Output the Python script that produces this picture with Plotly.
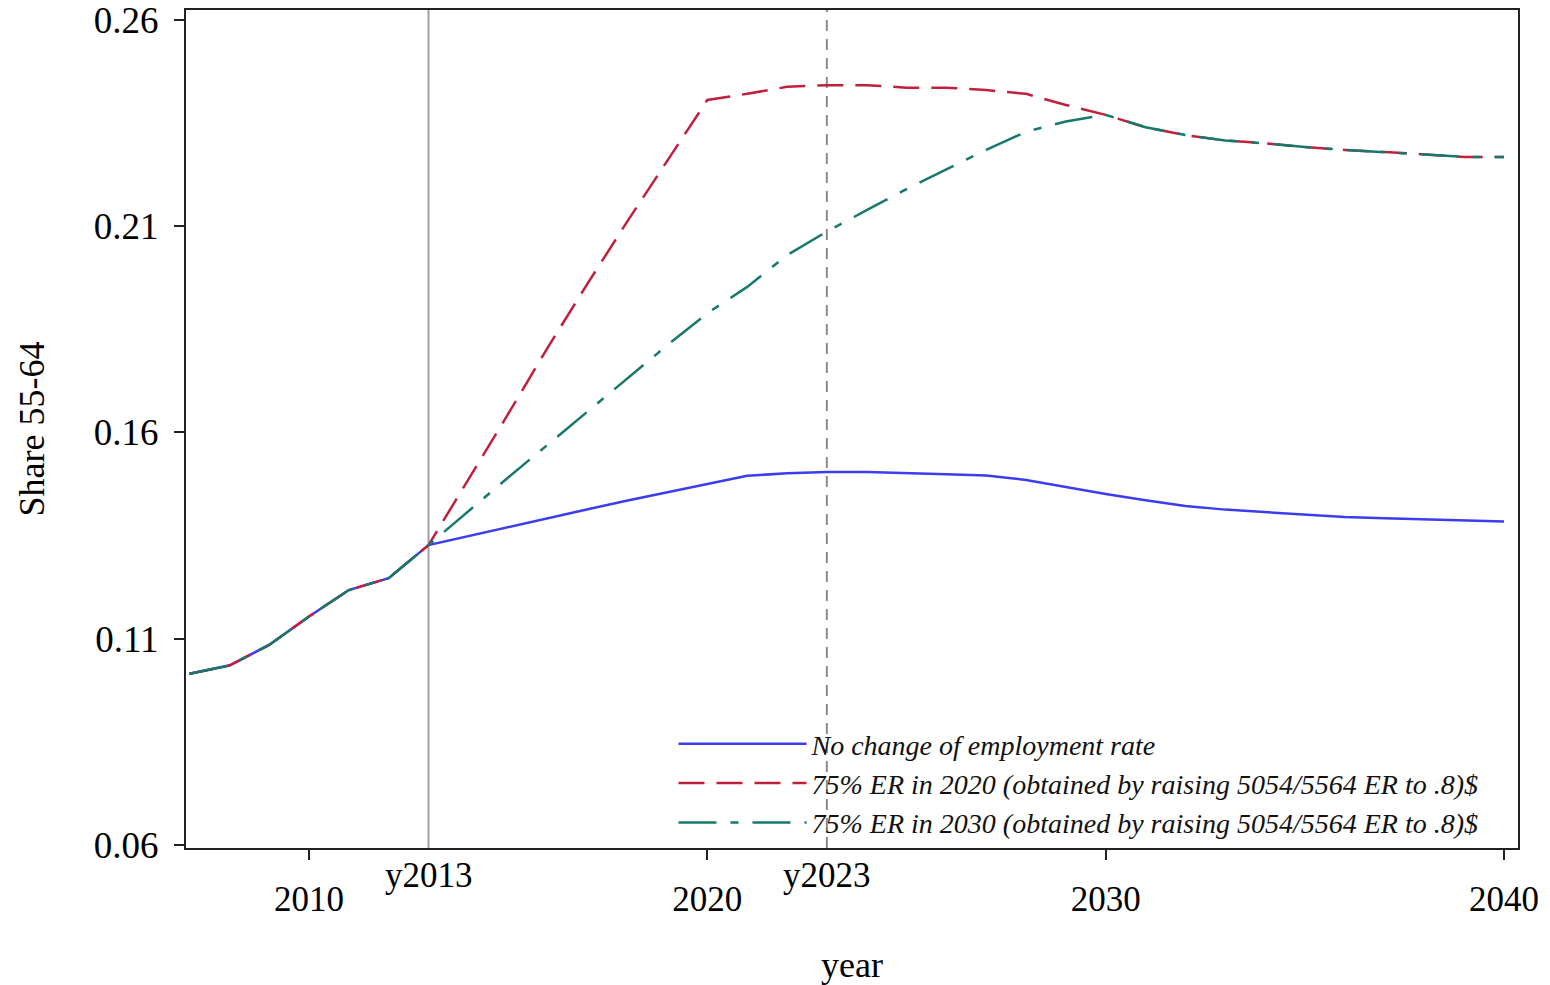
import plotly.graph_objects as go

# Projection years
years = list(range(2007, 2041))

# Share of 55-64 year olds, by employment-rate scenario
share_no_change = [
    0.1015, 0.1035, 0.1085, 0.1154, 0.1218, 0.1247, 0.1327,
    0.1349, 0.1371, 0.1393, 0.1414, 0.1435, 0.1455, 0.1475,
    0.1495, 0.1501, 0.1504, 0.1504, 0.1502, 0.1499, 0.1496,
    0.1485, 0.1468, 0.1451, 0.1436, 0.1422, 0.1413, 0.1407,
    0.1401, 0.1395, 0.1392, 0.1389, 0.1387, 0.1384,
]
share_er75_2020 = [
    0.1015, 0.1035, 0.1085, 0.1154, 0.1218, 0.1247, 0.1327,
    0.1485, 0.1645, 0.1807, 0.1962, 0.2113, 0.2261, 0.2406,
    0.2421, 0.2438, 0.2442, 0.2442, 0.2436, 0.2436, 0.2430,
    0.2421, 0.2394, 0.2370, 0.2340, 0.2321, 0.2308, 0.2301,
    0.2292, 0.2285, 0.2280, 0.2274, 0.2268, 0.2268,
]
share_er75_2030 = [
    0.1015, 0.1035, 0.1085, 0.1154, 0.1218, 0.1247, 0.1327,
    0.1410, 0.1491, 0.1571, 0.1652, 0.1732, 0.1812, 0.1889,
    0.1953, 0.2030, 0.2087, 0.2139, 0.2190, 0.2238, 0.2285,
    0.2329, 0.2354, 0.2370, 0.2340, 0.2321, 0.2308, 0.2301,
    0.2292, 0.2285, 0.2280, 0.2274, 0.2268, 0.2268,
]

series_names = [
    "No change of employment rate",
    "75% ER in 2020 (obtained by raising 5054/5564 ER to .8)$",
    "75% ER in 2030 (obtained by raising 5054/5564 ER to .8)$",
]

# Axis ticks
x_ticks = [2010, 2020, 2030, 2040]
y_ticks = [0.06, 0.11, 0.16, 0.21, 0.26]
y_tick_text = ["0.06", "0.11", "0.16", "0.21", "0.26"]

# Reference years marked by vertical lines
ref_years = [2013, 2023]
ref_labels = ["y2013", "y2023"]

SERIF = "Liberation Serif, Times New Roman, serif"

fig = go.Figure()
fig.add_trace(go.Scatter(
    x=years, y=share_no_change, mode="lines", name=series_names[0],
    line=dict(color="#3c3cf0", width=2.5),
))
fig.add_trace(go.Scatter(
    x=years, y=share_er75_2020, mode="lines", name=series_names[1],
    line=dict(color="#c0203c", width=2.5, dash="26px,12px"),
))
fig.add_trace(go.Scatter(
    x=years, y=share_er75_2030, mode="lines", name=series_names[2],
    line=dict(color="#17796b", width=2.5, dash="38px,14px,8px,14px"),
))

# Vertical reference lines: solid at the base year, dashed ten years later
fig.add_shape(type="line", xref="x", yref="paper", x0=ref_years[0], x1=ref_years[0],
              y0=0, y1=1, line=dict(color="#a0a0a0", width=2), layer="below")
fig.add_shape(type="line", xref="x", yref="paper", x0=ref_years[1], x1=ref_years[1],
              y0=0, y1=1, line=dict(color="#8c8c8c", width=2, dash="11px,8px"), layer="below")

# Labels of the reference years, set just under the axis line
for yr, lab in zip(ref_years, ref_labels):
    fig.add_annotation(
        x=yr, xref="x", y=-0.033, yref="paper", text=lab, showarrow=False,
        xanchor="center", yanchor="middle",
        font=dict(family=SERIF, size=35, color="black"),
    )

x_range = [2006.912, 2040.351]
y_range = [0.05927, 0.26242]

fig.update_layout(
    width=1550, height=985,
    margin=dict(l=186, r=32, t=10, b=137),
    paper_bgcolor="white", plot_bgcolor="white",
    font=dict(family=SERIF, color="black", size=34),
    showlegend=True,
    legend=dict(
        x=0.366, y=0.0, xanchor="left", yanchor="bottom",
        bgcolor="rgba(255,255,255,0)", borderwidth=0,
        font=dict(family=SERIF, size=28, style="italic", color="#111"),
        itemwidth=128, tracegroupgap=0,
    ),
    xaxis=dict(
        range=x_range, tickmode="array", tickvals=x_ticks,
        ticks="outside", ticklen=10, tickwidth=2, tickcolor="#222",
        showline=True, linecolor="#222", linewidth=2, mirror=True,
        showgrid=False, zeroline=False, automargin=False,
        tickfont=dict(family=SERIF, size=35), ticklabelstandoff=9,
        title=dict(text="year", font=dict(family=SERIF, size=36), standoff=35),
    ),
    yaxis=dict(
        range=y_range, tickmode="array", tickvals=y_ticks, ticktext=y_tick_text,
        ticks="outside", ticklen=10, tickwidth=2, tickcolor="#222",
        showline=True, linecolor="#222", linewidth=2, mirror=True,
        showgrid=False, zeroline=False, automargin=False,
        tickfont=dict(family=SERIF, size=37), ticklabelstandoff=8,
        ticklabeloverflow="allow",
        title=dict(text="Share 55-64", font=dict(family=SERIF, size=36), standoff=38),
    ),
)

fig.write_html("out.html")
